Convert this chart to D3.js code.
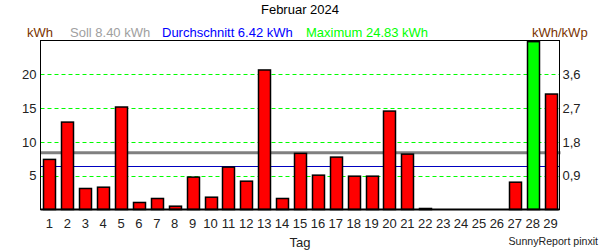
<!DOCTYPE html>
<html><head><meta charset="utf-8">
<script src="https://cdn.jsdelivr.net/npm/d3@7"></script>
<style>body{margin:0;background:#fff}svg{display:block;font-family:"Liberation Sans",Arial,sans-serif}</style>
</head><body><svg id="c" width="600" height="250"></svg>
<script>
const days = d3.range(1, 30).map(String);
const values = [7.41,12.93,3.11,3.30,15.16,1.04,1.63,0.49,4.79,1.82,6.27,4.19,20.64,1.63,8.30,5.08,7.75,4.93,4.93,14.56,8.19,0.15,0,0,0,0,4.04,24.83,17.08];
const leftTicks = [5,10,15,20];
const rightTicks = [0.9,1.8,2.7,3.6];
const soll = 8.40, avg = 6.42, maxVal = 24.83;
const kWp = 5/0.9;
const title = "Februar 2024";

const svg = d3.select("#c");
const L=40.5, R=559.5, T=40.5, B=209.5;
const FS=13;
const x = d3.scaleBand().domain(days).range([L,R]).paddingInner(0.33).paddingOuter(0.165);
const y = d3.scaleLinear().domain([0,25]).range([B,T]);
const y2 = d3.scaleLinear().domain([0,25/kWp]).range([B,T]);

svg.append("text").attr("x",300).attr("y",14).attr("text-anchor","middle").attr("font-size",FS).attr("fill","#000").text(title);
const hdr=[["kWh",27,"#7a3300"],["Soll 8.40 kWh",70,"#a0a0a0"],["Durchschnitt 6.42 kWh",162,"#0000ff"],["Maximum 24.83 kWh",306,"#00ff00"],["kWh/kWp",532,"#7a3300"]];
hdr.forEach(h=>svg.append("text").attr("x",h[1]).attr("y",37).attr("font-size",FS).attr("fill",h[2]).text(h[0]));

// grid
svg.append("g").selectAll("line").data(leftTicks).join("line")
 .attr("x1",L).attr("x2",R).attr("y1",d=>Math.round(y(d))+0.5).attr("y2",d=>Math.round(y(d))+0.5)
 .attr("stroke","#00ff00").attr("stroke-dasharray","4,3").attr("stroke-width",1);

// soll & avg lines
svg.append("line").attr("x1",L).attr("x2",R+1).attr("y1",y(soll)).attr("y2",y(soll)).attr("stroke","#808080").attr("stroke-width",3);
svg.append("line").attr("x1",L).attr("x2",R).attr("y1",Math.round(y(avg))+0.5).attr("y2",Math.round(y(avg))+0.5).attr("stroke","#0000c0").attr("stroke-width",1);

// bars
svg.append("g").selectAll("rect").data(values).join("rect")
 .attr("x",(d,i)=>Math.round(x(days[i]))+0.5).attr("width",Math.round(x.bandwidth()))
 .attr("y",d=>y(d)).attr("height",d=>B-y(d))
 .attr("fill",d=>d===maxVal?"#00ff00":"#ff0000").attr("stroke","#000").attr("stroke-width",1.5);

// frame
svg.append("rect").attr("x",L).attr("y",T).attr("width",R-L).attr("height",B-T).attr("fill","none").attr("stroke","#000").attr("stroke-width",1);
svg.append("line").attr("x1",L).attr("x2",R).attr("y1",B).attr("y2",B).attr("stroke","#000").attr("stroke-width",2);

// axes
const ax=d3.axisLeft(y).tickValues(leftTicks).tickSize(0).tickPadding(4);
const gL=svg.append("g").attr("transform",`translate(${L},0)`).call(ax);
gL.select(".domain").remove();
gL.selectAll("text").attr("font-size",FS).attr("fill","#222").attr("font-family","Liberation Sans, Arial, sans-serif");
const ax2=d3.axisRight(y2).tickValues(rightTicks).tickSize(0).tickPadding(3).tickFormat(d=>d3.format(".1f")(d).replace(".",","));
const gR=svg.append("g").attr("transform",`translate(${R},0)`).call(ax2);
gR.select(".domain").remove();
gR.selectAll("text").attr("font-size",FS).attr("fill","#222").attr("font-family","Liberation Sans, Arial, sans-serif");
const axB=d3.axisBottom(x).tickSize(0).tickPadding(9);
const gB=svg.append("g").attr("transform",`translate(0,${B})`).call(axB);
gB.select(".domain").remove();
gB.selectAll("text").attr("font-size",FS).attr("fill","#222").attr("font-family","Liberation Sans, Arial, sans-serif");

svg.append("text").attr("x",300).attr("y",247).attr("text-anchor","middle").attr("font-size",FS).attr("fill","#222").text("Tag");
svg.append("text").attr("x",598).attr("y",245).attr("text-anchor","end").attr("font-size",10.6).attr("fill","#222").text("SunnyReport pinxit");
</script></body></html>
